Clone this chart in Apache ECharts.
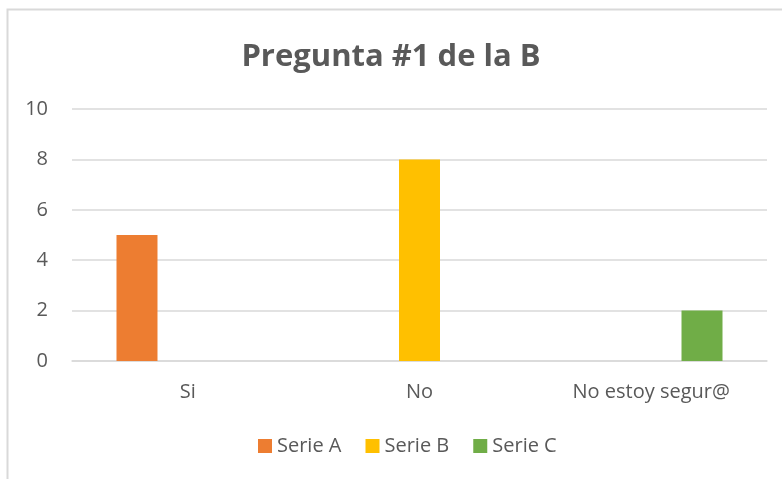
<!DOCTYPE html>
<html>
<head>
<meta charset="utf-8">
<script src="https://cdn.jsdelivr.net/npm/echarts@6/dist/echarts.min.js"></script>
<style>
  html, body { margin: 0; padding: 0; background: #fff; }
  #main { width: 782px; height: 479px; }
</style>
</head>
<body>
<div id="main"></div>
<script>
// datos del gráfico
const categorias = ['Si', 'No', 'No estoy segur@'];
const serieA = [5, null, null];
const serieB = [null, 8, null];
const serieC = [null, null, 2];
const nombres = ['Serie A', 'Serie B', 'Serie C'];
const colores = ['#ED7D31', '#FFC000', '#70AD47'];

const fuente = '"Open Sans", sans-serif';
const gris = '#595959';

let myChart = echarts.init(document.getElementById('main'));
let option = {
  animation: false,
  textStyle: { fontFamily: fuente },
  graphic: [{
    type: 'rect',
    shape: { x: 7.5, y: 9.5, width: 800, height: 500 },
    style: { fill: 'none', stroke: '#d9d9d9', lineWidth: 2 },
    silent: true
  }],
  title: {
    text: 'Pregunta #1 de la B',
    left: 'center',
    top: 37,
    textStyle: { fontFamily: fuente, fontSize: 31, fontWeight: 'bold', color: gris }
  },
  legend: {
    data: nombres,
    bottom: 18,
    left: 253,
    itemWidth: 14,
    itemHeight: 14,
    itemGap: 24,
    icon: 'rect',
    textStyle: { fontFamily: fuente, fontSize: 20, color: gris }
  },
  grid: { left: 72, right: 15, top: 109, bottom: 118, containLabel: false },
  xAxis: {
    type: 'category',
    data: categorias,
    axisLine: { lineStyle: { color: '#d9d9d9', width: 1.5 } },
    axisTick: { show: false },
    axisLabel: { color: gris, fontSize: 20, margin: 21, fontFamily: fuente }
  },
  yAxis: {
    type: 'value',
    min: 0,
    max: 10,
    interval: 2,
    axisLine: { show: false },
    axisTick: { show: false },
    splitLine: { lineStyle: { color: '#d9d9d9', width: 1.5 } },
    axisLabel: { color: gris, fontSize: 20, margin: 24, fontFamily: fuente }
  },
  series: [
    { name: nombres[0], type: 'bar', data: serieA, barWidth: 41, barGap: '24%', itemStyle: { color: colores[0] } },
    { name: nombres[1], type: 'bar', data: serieB, barWidth: 41, barGap: '24%', itemStyle: { color: colores[1] } },
    { name: nombres[2], type: 'bar', data: serieC, barWidth: 41, barGap: '24%', itemStyle: { color: colores[2] } }
  ]
};
myChart.setOption(option);
</script>
</body>
</html>
